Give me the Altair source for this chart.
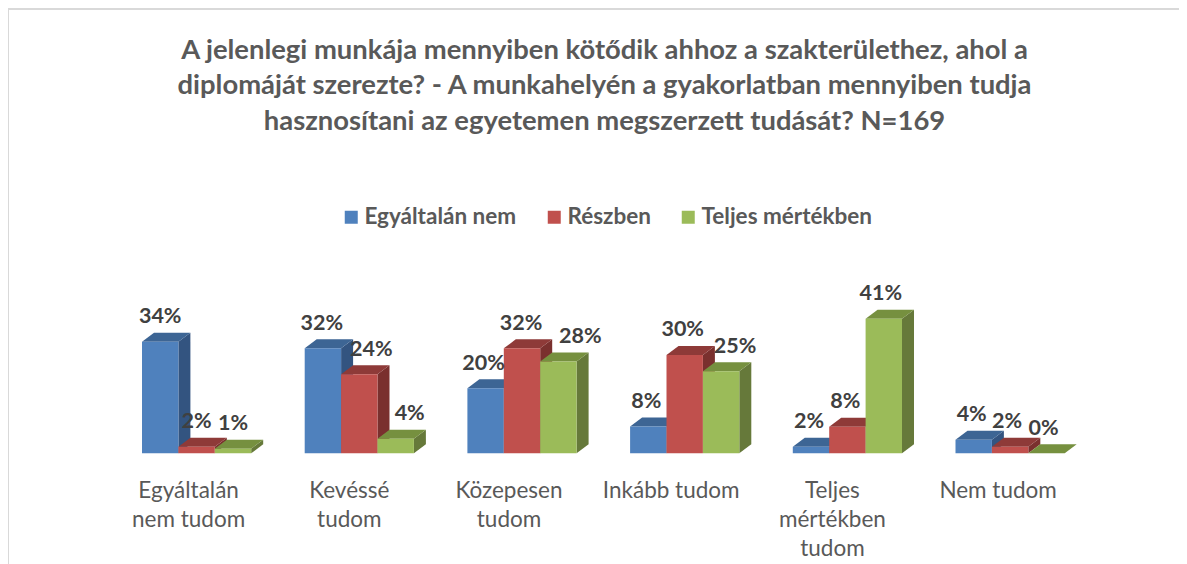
import altair as alt
import pandas as pd

title_lines = [
    "A jelenlegi munkája mennyiben kötődik ahhoz a szakterülethez, ahol a",
    "diplomáját szerezte? - A munkahelyén a gyakorlatban mennyiben tudja",
    "hasznosítani az egyetemen megszerzett tudását? N=169",
]
categories = [
    ["Egyáltalán", "nem tudom"],
    ["Kevéssé", "tudom"],
    ["Közepesen", "tudom"],
    ["Inkább tudom"],
    ["Teljes", "mértékben", "tudom"],
    ["Nem tudom"],
]
series = ["Egyáltalán nem", "Részben", "Teljes mértékben"]
egyaltalan = [34.0, 32.0, 19.8, 8.2, 2.0, 4.1]
reszben = [2.0, 24.1, 32.0, 30.0, 8.1, 2.0]
teljes = [1.4, 4.4, 28.0, 25.0, 41.0, 0.0]
labels_a = ["34%", "32%", "20%", "8%", "2%", "4%"]
labels_b = ["2%", "24%", "32%", "30%", "8%", "2%"]
labels_c = ["1%", "4%", "28%", "25%", "41%", "0%"]

FRONT = ["#4F81BD", "#C0504D", "#9BBB59"]
TOP = ["#3D6594", "#8E3A38", "#76903F"]
SIDE = ["#335480", "#7A302E", "#66793A"]

# geometry, in pixels, converted to data units through the scales below
W, H = 1171, 556
PERIOD = 162.7
BAR = 36.4
DX, DY = 12.0, 9.0
LEFT0 = 134.0      # left edge of first group in the svg
BASE = 445.3       # baseline in the svg
PXPCT = 3.28
bw, dxu, dyu = BAR / PERIOD, DX / PERIOD, DY / PXPCT
xdom = [-LEFT0 / PERIOD, (W - LEFT0) / PERIOD]
ydom = [-(H - BASE) / PXPCT, BASE / PXPCT]
xs = alt.Scale(domain=xdom, nice=False, zero=False)
ys = alt.Scale(domain=ydom, nice=False, zero=False)
X = alt.X("x:Q", scale=xs, axis=None)
Y = alt.Y("y:Q", scale=ys, axis=None)

# label nudges (px) as seen in the picture
label_shift = [
    [0, 0, 0], [-1, 12, 14], [-2, -1, 22], [-2, -2, 14], [-2, -2, -3], [-2, -3, -3],
]
cat_shift = [-8, -10, -13, -13.5, -15, -12]

values = [egyaltalan, reszben, teljes]
texts = [labels_a, labels_b, labels_c]
layers = []

# border (top and left of the frame)
BORDER = "#D9D9D9"
layers.append(alt.Chart(pd.DataFrame({"a": [0]})).mark_rule(color=BORDER, strokeWidth=2).encode(
    x=alt.value(0), x2=alt.value(W), y=alt.value(1)))
layers.append(alt.Chart(pd.DataFrame({"a": [0]})).mark_rule(color=BORDER, strokeWidth=2).encode(
    x=alt.value(0), y=alt.value(0), y2=alt.value(H)))

for s, name in enumerate(series):
    side_rows, top_rows, front_rows = [], [], []
    for g in range(6):
        v = values[s][g]
        xl = g + s * bw
        xr = xl + bw
        side_rows += [
            {"g": g, "x": xr, "y": v, "y2": 0.0},
            {"g": g, "x": xr + dxu, "y": v + dyu, "y2": dyu},
        ]
        top_rows += [
            {"g": g, "y": v, "x": xl, "x2": xr},
            {"g": g, "y": v + dyu, "x": xl + dxu, "x2": xr + dxu},
        ]
        front_rows.append({"g": g, "x": xl, "x2": xr, "y": v, "y2": 0.0, "series": name})
    layers.append(alt.Chart(pd.DataFrame(side_rows)).mark_area(color=SIDE[s], interpolate="linear").encode(
        x=X, y=Y, y2="y2:Q", detail="g:N"))
    layers.append(alt.Chart(pd.DataFrame(top_rows)).mark_area(color=TOP[s], orient="horizontal", interpolate="linear").encode(
        y=Y, x=X, x2="x2:Q", detail="g:N"))
    layers.append(alt.Chart(pd.DataFrame(front_rows)).mark_rect().encode(
        x=X, x2="x2:Q", y=Y, y2="y2:Q",
        color=alt.Color("series:N", scale=alt.Scale(domain=series, range=FRONT),
                        legend=alt.Legend(
                            title=None, orient="none", legendX=332, legendY=198,
                            direction="horizontal", symbolType="square", symbolSize=169,
                            symbolStrokeWidth=0, symbolOpacity=1,
                            labelFont="Lato", labelFontWeight="bold", labelFontSize=22.5,
                            labelColor="#595959", labelOffset=2, columnPadding=26,
                            labelLimit=300, gridAlign="none")),
    ))

label_rows = []
for s in range(3):
    for g in range(6):
        label_rows.append({
            "x": g + (s + 0.5) * bw + label_shift[g][s] / PERIOD,
            "y": values[s][g],
            "t": texts[s][g],
        })
layers.append(alt.Chart(pd.DataFrame(label_rows)).mark_text(
    font="Lato", fontWeight="bold", fontSize=21.5, color="#404040", baseline="middle", dy=-24.5
).encode(x=X, y=Y, text="t:N"))

cat_rows = [{"x": g + 1.5 * bw + cat_shift[g] / PERIOD, "y": 0.0, "t": categories[g]} for g in range(6)]
layers.append(alt.Chart(pd.DataFrame(cat_rows)).mark_text(
    font="Lato", fontSize=22.5, color="#595959", baseline="top", dy=27, lineHeight=29
).encode(x=X, y=Y, text="t:N"))

chart = alt.layer(*layers).properties(
    width=W, height=H, padding=0,
    autosize=alt.AutoSizeParams(type="none"),
    title=alt.TitleParams(
        text=title_lines, anchor="middle", frame="group", baseline="top", offset=0, dy=128,
        dx=11, font="Lato", fontWeight="bold", fontSize=27.4, color="#595959", lineHeight=35.5,
    ),
).configure_view(stroke=None)

chart.save("out.html", embed_options={"renderer": "svg", "actions": False})
